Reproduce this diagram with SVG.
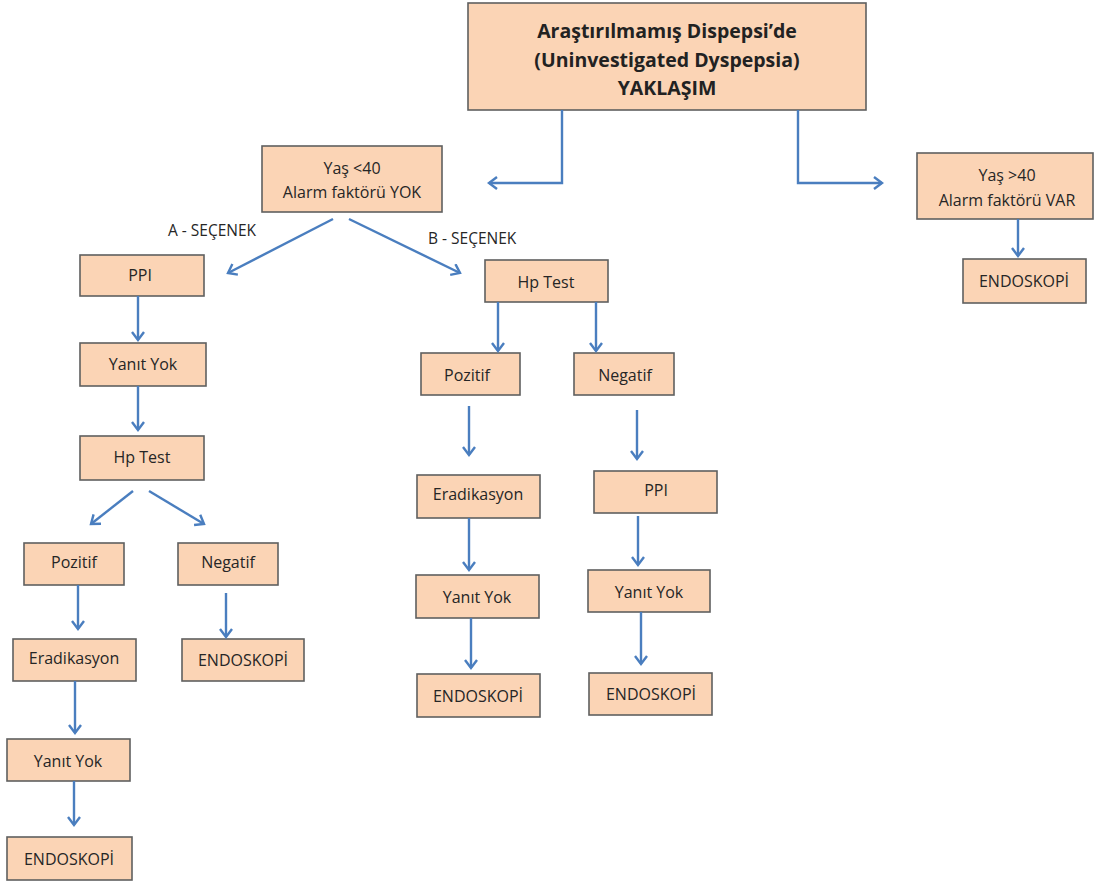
<svg xmlns="http://www.w3.org/2000/svg" width="1094" height="886" viewBox="0 0 1094 886">
<style>
.box{fill:#FBD4B5;stroke:#5F5F5F;stroke-width:1.6}
.t{font-family:"Open Sans","Liberation Sans",sans-serif;font-size:16px;fill:#262626;text-anchor:middle;dominant-baseline:central}
.title{font-family:"Open Sans","Liberation Sans",sans-serif;font-size:19.5px;font-weight:bold;fill:#222222;text-anchor:middle;dominant-baseline:central}
.lbl{font-family:"Open Sans","Liberation Sans",sans-serif;font-size:15.5px;fill:#262626;dominant-baseline:central}
.c{fill:none;stroke:#4A7EBF;stroke-width:2.4;marker-end:url(#ah)}
</style>
<defs>
<marker id="ah" markerUnits="userSpaceOnUse" markerWidth="16" markerHeight="16" refX="9" refY="7" orient="auto">
<path d="M1,1 L9,7 L1,13" fill="none" stroke="#4A7EBF" stroke-width="2.4"/>
</marker>
</defs>
<rect width="1094" height="886" fill="#ffffff"/>
<g id="n-root"><rect class="box" x="468" y="3" width="398" height="107"/>
<text class="title" x="667" y="30">Araştırılmamış Dispepsi’de</text>
<text class="title" x="667" y="59">(Uninvestigated Dyspepsia)</text>
<text class="title" x="667" y="87">YAKLAŞIM</text></g>
<g id="n-young"><rect class="box" x="262" y="146" width="180" height="66"/>
<text class="t" x="352" y="168">Yaş &lt;40</text>
<text class="t" x="352" y="192">Alarm faktörü YOK</text></g>
<g id="n-old"><rect class="box" x="917" y="153" width="176" height="66"/>
<text class="t" x="1007" y="175">Yaş &gt;40</text>
<text class="t" x="1007" y="200">Alarm faktörü VAR</text></g>
<g id="n-old-endo"><rect class="box" x="963" y="259" width="123" height="44"/>
<text class="t" x="1024" y="281">ENDOSKOPİ</text></g>
<text class="lbl" x="168" y="230">A - SEÇENEK</text>
<text class="lbl" x="428" y="238">B - SEÇENEK</text>
<g id="n-a-ppi"><rect class="box" x="80" y="255" width="124" height="41"/>
<text class="t" x="140" y="275">PPI</text></g>
<g id="n-a-yanit1"><rect class="box" x="80" y="343" width="126" height="43"/>
<text class="t" x="143" y="364">Yanıt Yok</text></g>
<g id="n-a-hp"><rect class="box" x="80" y="436" width="124" height="44"/>
<text class="t" x="142" y="457">Hp Test</text></g>
<g id="n-a-poz"><rect class="box" x="24" y="543" width="100" height="42"/>
<text class="t" x="74" y="562">Pozitif</text></g>
<g id="n-a-neg"><rect class="box" x="178" y="543" width="100" height="42"/>
<text class="t" x="228" y="562">Negatif</text></g>
<g id="n-a-erad"><rect class="box" x="13" y="639" width="123" height="42"/>
<text class="t" x="74" y="658">Eradikasyon</text></g>
<g id="n-a-neg-endo"><rect class="box" x="182" y="639" width="122" height="42"/>
<text class="t" x="243" y="660">ENDOSKOPİ</text></g>
<g id="n-a-yanit2"><rect class="box" x="7" y="739" width="123" height="42"/>
<text class="t" x="68" y="761">Yanıt Yok</text></g>
<g id="n-a-endo"><rect class="box" x="7" y="837" width="125" height="43"/>
<text class="t" x="69" y="859">ENDOSKOPİ</text></g>
<g id="n-b-hp"><rect class="box" x="485" y="260" width="123" height="42"/>
<text class="t" x="546" y="282">Hp Test</text></g>
<g id="n-b-poz"><rect class="box" x="421" y="353" width="99" height="42"/>
<text class="t" x="467" y="375">Pozitif</text></g>
<g id="n-b-neg"><rect class="box" x="574" y="353" width="100" height="42"/>
<text class="t" x="625" y="375">Negatif</text></g>
<g id="n-b-erad"><rect class="box" x="417" y="475" width="123" height="43"/>
<text class="t" x="478" y="494">Eradikasyon</text></g>
<g id="n-b-ppi"><rect class="box" x="594" y="471" width="123" height="42"/>
<text class="t" x="656" y="490">PPI</text></g>
<g id="n-b-yanit1"><rect class="box" x="416" y="575" width="123" height="43"/>
<text class="t" x="477" y="597">Yanıt Yok</text></g>
<g id="n-b-yanit2"><rect class="box" x="588" y="570" width="122" height="42"/>
<text class="t" x="649" y="592">Yanıt Yok</text></g>
<g id="n-b-endo1"><rect class="box" x="417" y="674" width="123" height="43"/>
<text class="t" x="478" y="696">ENDOSKOPİ</text></g>
<g id="n-b-endo2"><rect class="box" x="589" y="673" width="123" height="42"/>
<text class="t" x="651" y="694">ENDOSKOPİ</text></g>
<g id="connectors">
<path class="c" d="M562,110 V183 H489"/>
<path class="c" d="M798,110 V183 H882"/>
<path class="c" d="M1018,219 V256"/>
<path class="c" d="M333,219 L228,273"/>
<path class="c" d="M349,219 L460,273"/>
<path class="c" d="M138,296 V340"/>
<path class="c" d="M138,386 V430"/>
<path class="c" d="M133,491 L91,524"/>
<path class="c" d="M149,491 L204,524"/>
<path class="c" d="M78,585 V629"/>
<path class="c" d="M226,593 V637"/>
<path class="c" d="M75,681 V733"/>
<path class="c" d="M74,781 V825"/>
<path class="c" d="M498,302 V351"/>
<path class="c" d="M596,302 V351"/>
<path class="c" d="M469,406 V455"/>
<path class="c" d="M637,410 V459"/>
<path class="c" d="M469,518 V570"/>
<path class="c" d="M638,516 V565"/>
<path class="c" d="M471,618 V668"/>
<path class="c" d="M641,612 V664"/>
</g>
</svg>
